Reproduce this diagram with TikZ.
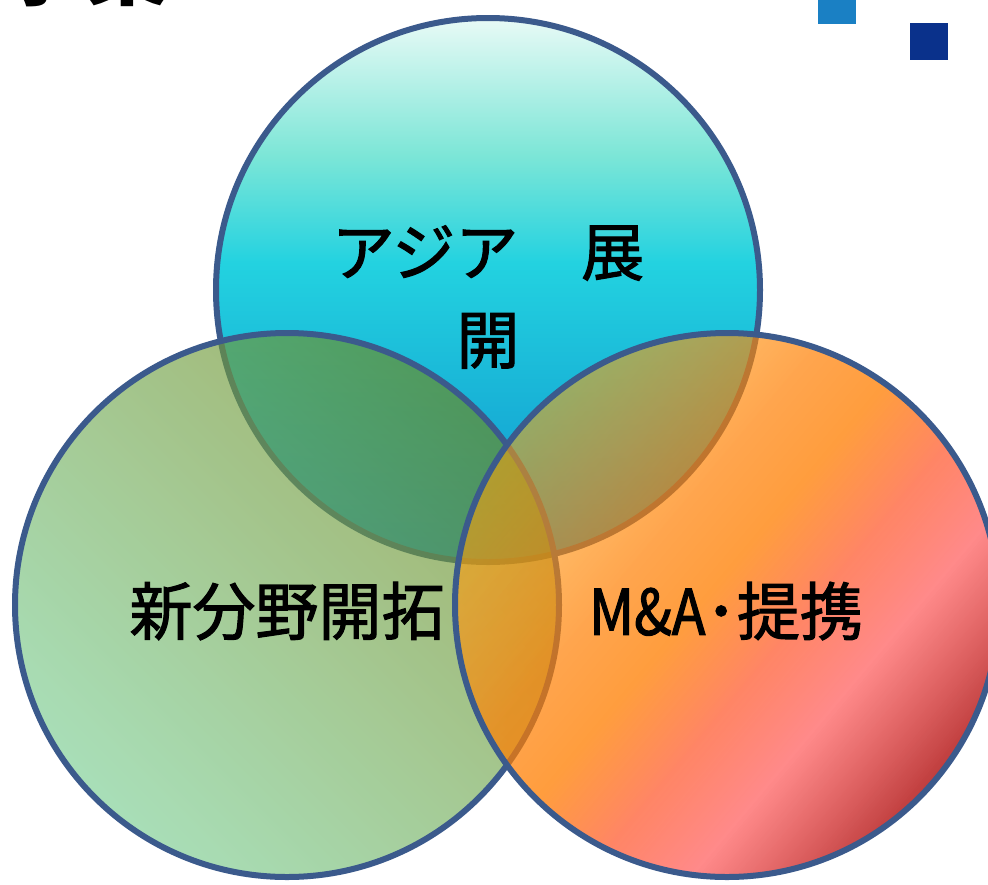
\documentclass[tikz,border=0pt]{standalone}
\usepackage{fontspec}
\usepackage{xcolor}
\usepackage{tikz}
\usetikzlibrary{fadings}
\newfontfamily\cjk[FakeBold=1.7]{Noto Sans CJK JP}
\newfontfamily\cjknarrow[FakeBold=1.7,FakeStretch=0.88]{Noto Sans CJK JP}
\newfontfamily\cjkhead{Noto Sans CJK JP}
\definecolor{rim}{RGB}{59,90,140}
\definecolor{keyblue}{RGB}{26,128,196}
\definecolor{navy}{RGB}{10,49,139}
\definecolor{asiaTop}{RGB}{232,250,246}
\definecolor{asiaA}{RGB}{125,230,215}
\definecolor{asiaB}{RGB}{35,210,224}
\definecolor{asiaC}{RGB}{25,180,215}
\definecolor{asiaD}{RGB}{15,145,208}
\definecolor{fieldLo}{RGB}{122,205,146}
\definecolor{fieldHi}{RGB}{109,137,29}
\definecolor{allyA}{RGB}{255,165,10}
\definecolor{allyB}{RGB}{255,145,10}
\definecolor{allyC}{RGB}{255,126,0}
\definecolor{allyD}{RGB}{255,108,70}
\definecolor{allyE}{RGB}{255,124,124}
\definecolor{allyF}{RGB}{190,60,60}
\pgfdeclareverticalshading{asiashade}{100bp}{color(0bp)=(asiaD); color(25bp)=(asiaD); color(40bp)=(asiaC); color(52.5bp)=(asiaB); color(62.5bp)=(asiaA); color(75bp)=(asiaTop); color(100bp)=(asiaTop)}
\pgfdeclareverticalshading{fieldshade}{100bp}{color(0bp)=(fieldLo); color(25bp)=(fieldLo); color(75bp)=(fieldHi); color(100bp)=(fieldHi)}
\pgfdeclarehorizontalshading{allyshade}{100bp}{color(0bp)=(allyA); color(25bp)=(allyA); color(33bp)=(allyB); color(41bp)=(allyC); color(48bp)=(allyC); color(56bp)=(allyD); color(63.5bp)=(allyE); color(75bp)=(allyF); color(100bp)=(allyF)}
\tikzfading[name=allyfade, top color=transparent!45, middle color=transparent!0, bottom color=transparent!0]

\begin{document}
\begin{tikzpicture}[x=1pt,y=-1pt,
  vennrim/.style={draw=rim,line width=6pt},
  venntext/.style={font=\cjk\fontsize{63}{88}\selectfont,align=center,inner sep=0pt}]
\useasboundingbox (0,0) rectangle (988,884);
\coordinate (asia) at (488,290);
\coordinate (field) at (287,605);
\coordinate (ally) at (727,605);
% header remnants
\node[anchor=base west,inner sep=0pt,font=\cjkhead\bfseries\fontsize{86}{86}\selectfont] (headText) at (-2,-2) {事業};
\fill[keyblue] (818,0) rectangle (856,24);
\fill[navy] (910,23) rectangle (948,60);
% circles
\shade[shading=asiashade] (asia) circle[radius=272pt];
\draw[vennrim] (asia) circle[radius=272pt];
\shade[shading=fieldshade,shading angle=-45,opacity=0.65] (field) circle[radius=272pt];
\draw[vennrim] (field) circle[radius=272pt];
\shade[shading=allyshade,shading angle=-40,path fading=allyfade,fading angle=50] (ally) circle[radius=272pt];
\draw[vennrim] (ally) circle[radius=272pt];
% labels
\node[venntext] (asiaText) at (488,297) {アジア　展\\開};
\node[venntext] (fieldText) at (287,611) {新分野開拓};
\node[venntext] (allyText) at (726,611) {{\cjknarrow M\&A}･提携};
\end{tikzpicture}
\end{document}
